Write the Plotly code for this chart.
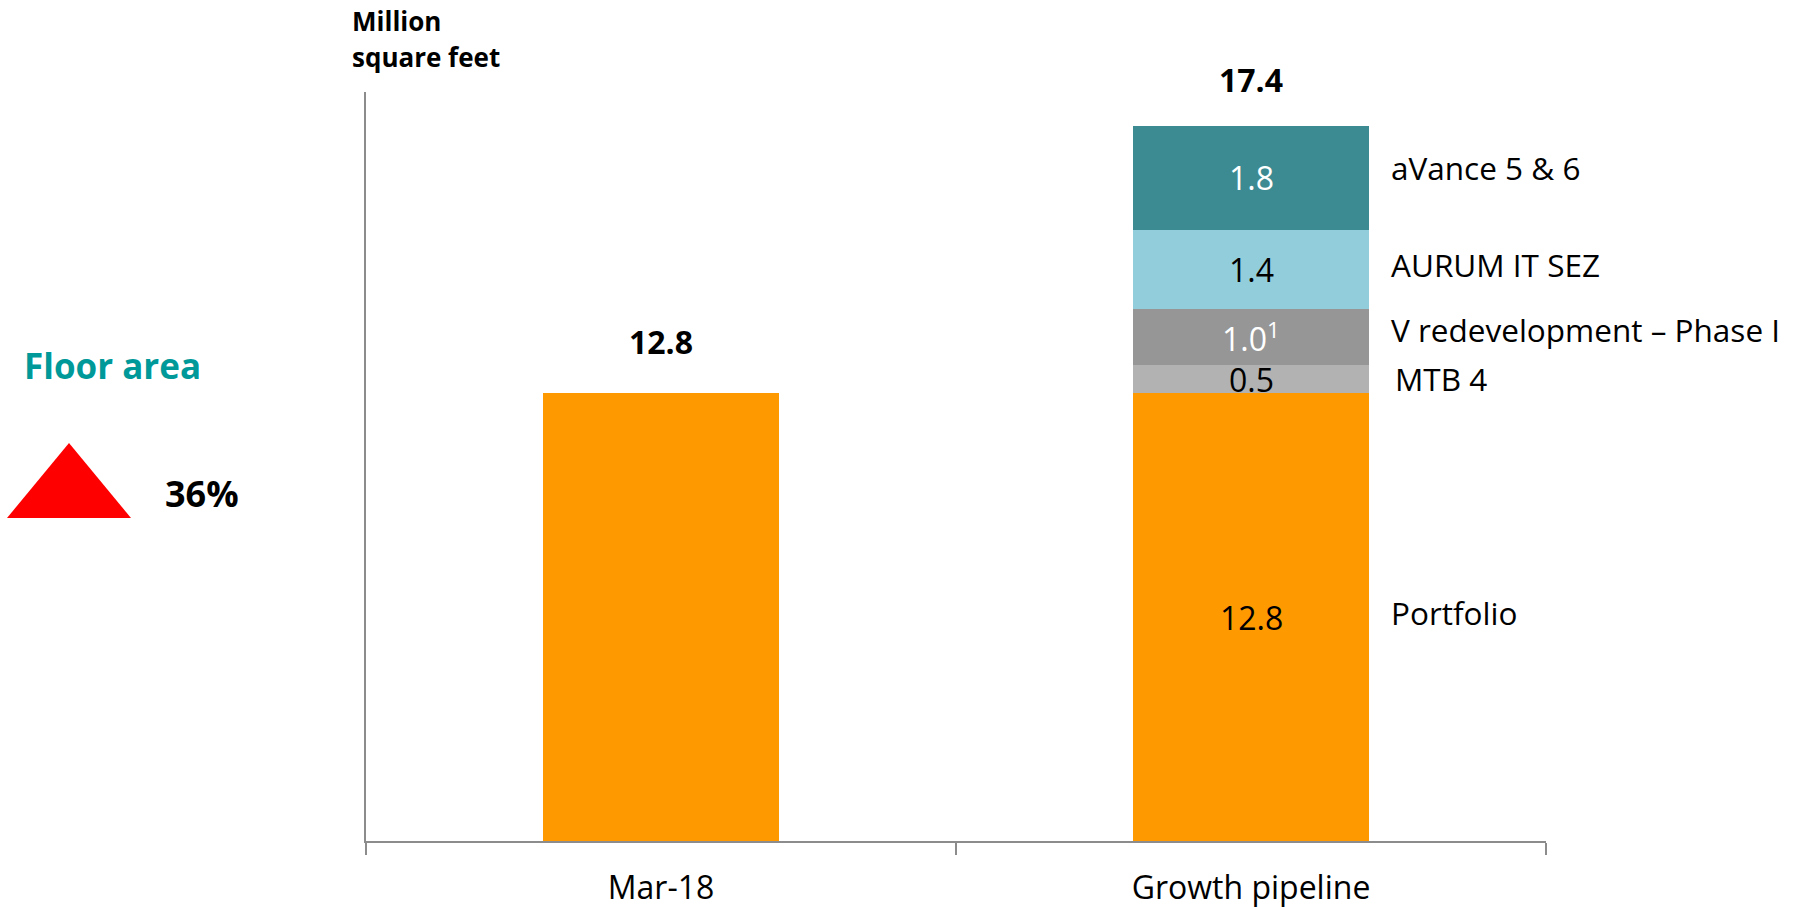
import plotly.graph_objects as go

# ---------------- data ----------------
categories = ["Mar-18", "Growth pipeline"]
portfolio = [12.8, 12.8]
segment_names = ["MTB 4", "V redevelopment \u2013 Phase I", "AURUM IT SEZ", "aVance 5 & 6"]
segment_values = [0.48, 0.96, 1.37, 1.78]       # stacked on the growth-pipeline bar
segment_label_suffix = ["", "<sup>1</sup>", "", ""]
growth_pct = "36%"
y_axis_title = ["Million", "square feet"]

# ---------------- styles ----------------
FONT = "Open Sans"
ORANGE = "#FF9900"
seg_colors = ["#B2B2B2", "#969696", "#92CDDC", "#3D8B92"]
seg_text_colors = ["black", "white", "black", "white"]
AXIS = "#8C8C8C"
TEAL = "#009999"

W, H = 1802, 907
L, R, T, B = 366, 1546, 92, 841
Y_RANGE = [5.12, 17.97]


def px_x(px):
    return (px - L) / (R - L)


def px_y(py):
    return (B - py) / (B - T)


fig = go.Figure()
fig.add_trace(go.Bar(x=categories, y=portfolio, name="Portfolio",
                     marker=dict(color=ORANGE, line=dict(width=0)), hoverinfo="skip"))
for name, val, col in zip(segment_names, segment_values, seg_colors):
    fig.add_trace(go.Bar(x=[categories[1]], y=[val], name=name,
                         marker=dict(color=col, line=dict(width=0)), hoverinfo="skip"))

ann = []
# labels inside the growth bar and labels to its right
base = portfolio[1]
right_x = px_x(1389)
right_shift = [1, 8, 5, 10]
for name, val, tc, suf, rs in zip(segment_names, segment_values, seg_text_colors,
                                  segment_label_suffix, right_shift):
    mid = base + val / 2
    ann.append(dict(x=categories[1], y=mid, xref="x", yref="y", text=f"{val:.1f}{suf}",
                    showarrow=False, font=dict(family=FONT, size=32, color=tc),
                    xanchor="center", yanchor="middle"))
    ann.append(dict(x=right_x, y=mid, xref="paper", yref="y", text=name, showarrow=False,
                    font=dict(family=FONT, size=31.5, color="black"), xanchor="left",
                    yanchor="middle", yshift=rs, xshift=(4 if name == "MTB 4" else 0)))
    base += val

# portfolio label inside visible part of growth bar
port_mid = (Y_RANGE[0] + portfolio[1]) / 2
ann.append(dict(x=categories[1], y=port_mid, xref="x", yref="y", text=f"{portfolio[1]:.1f}",
                showarrow=False, font=dict(family=FONT, size=32, color="black"),
                xanchor="center", yanchor="middle"))
ann.append(dict(x=right_x, y=port_mid, xref="paper", yref="y", text="Portfolio", showarrow=False,
                font=dict(family=FONT, size=31.5, color="black"), xanchor="left",
                yanchor="middle", yshift=5))

# totals
totals = [portfolio[0], portfolio[1] + sum(segment_values)]
total_shift = [52, 46]
for cat, tot, sh in zip(categories, totals, total_shift):
    ann.append(dict(x=cat, y=tot, xref="x", yref="y", text=f"<b>{tot:.1f}</b>", showarrow=False,
                    font=dict(family=FONT, size=32, color="black"), xanchor="center",
                    yanchor="middle", yshift=sh))

# axis unit title
ann.append(dict(x=px_x(350), y=px_y(21), xref="paper", yref="paper", text=f"<b>{y_axis_title[0]}</b>",
                showarrow=False, font=dict(family=FONT, size=26, color="black"),
                xanchor="left", yanchor="middle"))
ann.append(dict(x=px_x(350), y=px_y(57), xref="paper", yref="paper", text=f"<b>{y_axis_title[1]}</b>",
                showarrow=False, font=dict(family=FONT, size=26, color="black"),
                xanchor="left", yanchor="middle"))

# floor area callout
ann.append(dict(x=px_x(22), y=px_y(365), xref="paper", yref="paper", text="<b>Floor area</b>",
                showarrow=False, font=dict(family=FONT, size=35, color=TEAL),
                xanchor="left", yanchor="middle"))
ann.append(dict(x=px_x(163), y=px_y(493), xref="paper", yref="paper", text=f"<b>{growth_pct}</b>",
                showarrow=False, font=dict(family=FONT, size=36, color="black"),
                xanchor="left", yanchor="middle"))

shapes = [dict(type="path", xref="paper", yref="paper",
               path=f"M {px_x(7)} {px_y(518)} L {px_x(69)} {px_y(443)} L {px_x(131)} {px_y(518)} Z",
               fillcolor="#FF0000", line=dict(width=0))]

fig.update_layout(
    width=W, height=H,
    margin=dict(l=L, r=W - R, t=T, b=H - B, pad=0, autoexpand=False),
    barmode="stack", bargap=0.6,
    plot_bgcolor="white", paper_bgcolor="white",
    showlegend=False,
    annotations=ann, shapes=shapes,
    font=dict(family=FONT, color="black"),
    xaxis=dict(showline=True, linecolor=AXIS, linewidth=2, ticks="outside", tickson="boundaries",
               ticklen=12, tickwidth=1.5, tickcolor=AXIS, showgrid=False, automargin=False,
               tickfont=dict(family=FONT, size=32, color="black"), ticklabelstandoff=18),
    yaxis=dict(range=Y_RANGE, showline=True, linecolor=AXIS, linewidth=2, showticklabels=False,
               ticks="", showgrid=False, zeroline=False, automargin=False),
)

fig.write_html("out.html")
